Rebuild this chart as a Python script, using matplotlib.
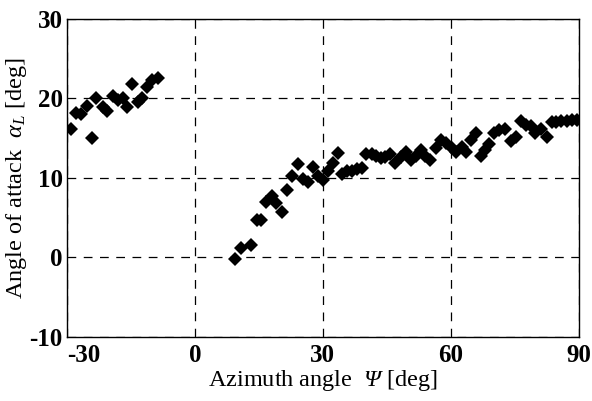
import matplotlib
matplotlib.use("Agg")
import matplotlib.pyplot as plt

# azimuth angle [deg] and angle of attack [deg]
psi = [-29.1, -27.9, -26.6, -25.3, -24.1, -23.1, -21.6, -20.5, -19.3, -18.1,
       -16.9, -15.8, -14.8, -13.4, -12.3, -11.2, -10.1, -8.7,
       9.5, 10.7, 13.2, 14.5, 15.6, 16.6, 18.0, 19.1, 20.3, 21.6, 22.7, 24.1,
       25.3, 26.5, 27.7, 28.9, 30.0, 31.2, 32.4, 33.6, 34.5, 35.7, 36.9, 38.0,
       39.2, 40.1, 41.4, 42.5, 43.5, 44.6, 45.7, 47.0, 48.2, 49.4, 50.6, 51.7,
       52.9, 53.9, 55.0, 56.4, 57.6, 58.8, 60.2, 61.2, 62.5, 63.6, 64.8, 65.9,
       67.0, 68.0, 68.9, 70.1, 71.2, 72.7, 74.0, 75.2, 76.3, 77.5, 78.7, 79.8,
       81.0, 82.6, 83.6, 84.7, 85.9, 87.3, 88.4, 89.6]
alpha = [16.1, 18.2, 18.0, 19.0, 15.0, 20.0, 18.9, 18.4, 20.3, 19.8,
         20.1, 18.9, 21.8, 19.5, 20.1, 21.4, 22.3, 22.6,
         -0.2, 1.2, 1.6, 4.7, 4.7, 7.0, 7.7, 6.8, 5.7, 8.5, 10.2, 11.8,
         9.9, 9.5, 11.4, 10.2, 9.7, 10.9, 11.9, 13.1, 10.5, 10.8, 10.9, 11.1,
         11.2, 13.0, 13.0, 12.8, 12.5, 12.6, 13.0, 11.9, 12.6, 13.2, 12.2, 12.8,
         13.5, 12.8, 12.3, 13.7, 14.8, 14.4, 13.8, 13.2, 13.9, 13.2, 14.7, 15.6,
         12.7, 13.5, 14.3, 15.6, 16.0, 16.1, 14.6, 15.2, 17.2, 16.7, 16.5, 15.6,
         16.1, 15.1, 17.0, 17.0, 17.2, 17.2, 17.3, 17.3]

xticks = [-30, 0, 30, 60, 90]
yticks = [-10, 0, 10, 20, 30]

plt.rcParams['font.family'] = ['Liberation Serif', 'DejaVu Serif']
# custom math fonts; 'bf' points at the italic face so that \mathbf gives an italic capital Psi
plt.rcParams['mathtext.fontset'] = 'custom'
plt.rcParams['mathtext.rm'] = 'Liberation Serif'
plt.rcParams['mathtext.it'] = 'Liberation Serif:italic'
plt.rcParams['mathtext.bf'] = 'Liberation Serif:italic'
plt.rcParams['axes.unicode_minus'] = False

fig = plt.figure(figsize=(5.92, 4.01), dpi=100)
ax = fig.add_axes([0.113, 0.160, 0.865, 0.793])

ax.plot(psi, alpha, 'D', color='black', markersize=7.5, markeredgewidth=0)

ax.set_xlim(-30, 90)
ax.set_ylim(-10, 30)
ax.set_xticks(xticks)
ax.set_yticks(yticks)
ax.tick_params(length=0, labelsize=18, pad=3)
ax.tick_params(axis='x', pad=5)
for lbl in ax.get_xticklabels() + ax.get_yticklabels():
    lbl.set_fontweight('bold')
ax.get_xticklabels()[0].set_horizontalalignment('left')
ax.grid(True, color='black', linestyle=(0, (7, 6)), linewidth=0.9)
for s in ax.spines.values():
    s.set_linewidth(1.0)

ax.set_xlabel(r'Azimuth angle  $\mathbf{\Psi}$ [deg]', fontsize=17.5, labelpad=1)
ax.set_ylabel(r'Angle of attack  $\alpha_L$ [deg]', fontsize=17.5, labelpad=0)

fig.savefig('out.png', dpi=100)
